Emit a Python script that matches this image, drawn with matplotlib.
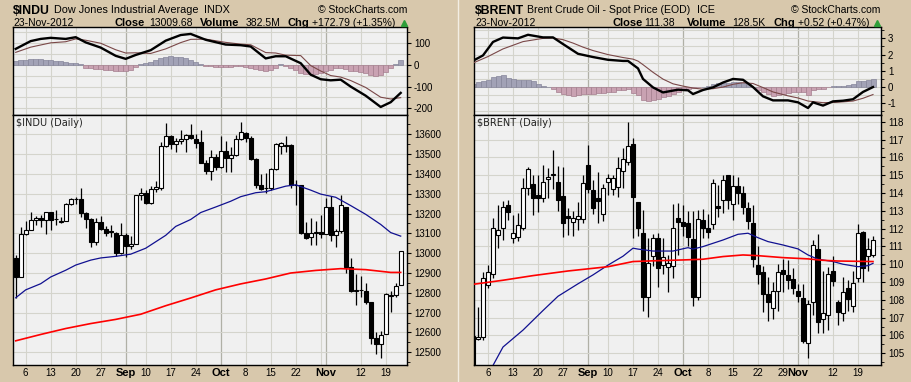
import numpy as np
import pandas as pd
import matplotlib
matplotlib.use("Agg")
import matplotlib.pyplot as plt
from matplotlib.lines import Line2D
from matplotlib.ticker import MultipleLocator, FuncFormatter

plt.rcParams['font.family'] = ['Liberation Sans', 'DejaVu Sans']

W, H = 911, 382
BG = '#d8c8ac'
PANEL = '#f0f0f0'
GRID = '#d4d4cc'
MGRID = '#b0b0a6'

# ---------------- $INDU ----------------
indu_dates = [d.strftime('%m-%d') for d in pd.bdate_range('2012-08-02', '2012-11-23')
              if d.strftime('%m-%d') not in ('09-03', '10-29', '10-30', '11-22')]
indu_open = [12975, 12880, 13097, 13118, 13166, 13175, 13165, 13207, 13170, 13156,
             13164, 13250, 13273, 13271, 13203, 13172, 13056, 13158, 13123, 13110,
             13100, 13002, 13092, 13036, 13045, 13292, 13305, 13254, 13324, 13330,
             13540, 13593, 13552, 13565, 13575, 13597, 13578, 13560, 13457, 13413,
             13485, 13437, 13515, 13479, 13495, 13577, 13606, 13582, 13473, 13344,
             13329, 13329, 13424, 13539, 13542, 13545, 13344, 13344, 13103, 13080,
             13104, 13107, 13099, 13232, 13092, 13113, 13233, 12932, 12811, 12812,
             12810, 12756, 12570, 12543, 12590, 12786, 12788, 12837]
indu_high = [12990, 13134, 13162, 13210, 13190, 13195, 13210, 13210, 13220, 13180,
             13255, 13280, 13285, 13330, 13210, 13175, 13176, 13190, 13135, 13140,
             13105, 13150, 13100, 13085, 13294, 13330, 13320, 13340, 13365, 13560,
             13655, 13595, 13580, 13620, 13600, 13650, 13600, 13620, 13470, 13520,
             13500, 13590, 13567, 13536, 13594, 13663, 13610, 13590, 13480, 13400,
             13403, 13430, 13556, 13560, 13593, 13550, 13368, 13345, 13159, 13175,
             13160, 13192, 13277, 13289, 13120, 13293, 13233, 12977, 12893, 12885,
             12850, 12756, 12604, 12605, 12798, 12810, 12850, 13010]
indu_low = [12776, 12878, 13090, 13115, 13140, 13130, 13095, 13115, 13140, 13150,
            13160, 13245, 13250, 13180, 13125, 13030, 13040, 13115, 13085, 13080,
            12985, 12998, 12982, 13020, 13045, 13270, 13250, 13250, 13310, 13320,
            13535, 13527, 13512, 13550, 13508, 13575, 13530, 13455, 13400, 13369,
            13420, 13430, 13410, 13410, 13490, 13570, 13560, 13470, 13330, 13320,
            13302, 13320, 13420, 13500, 13510, 13330, 13243, 13095, 13070, 13041,
            13040, 13075, 13099, 13060, 13030, 13100, 12900, 12805, 12738, 12780,
            12745, 12540, 12494, 12471, 12590, 12701, 12780, 12837]
indu_close = [12878, 13096, 13117, 13168, 13175, 13165, 13207, 13169, 13172, 13164,
              13250, 13275, 13271, 13203, 13172, 13057, 13158, 13124, 13102, 13107,
              13000, 13090, 13035, 13047, 13292, 13306, 13254, 13323, 13333, 13540,
              13593, 13553, 13565, 13577, 13596, 13579, 13558, 13457, 13413, 13485,
              13437, 13515, 13482, 13494, 13575, 13610, 13583, 13473, 13344, 13326,
              13328, 13424, 13551, 13557, 13548, 13344, 13345, 13103, 13077, 13103,
              13107, 13096, 13232, 13093, 13112, 13245, 12932, 12811, 12815, 12815,
              12756, 12570, 12543, 12588, 12795, 12788, 12836, 13009]
indu_ma50_dates = ['08-02', '08-06', '08-09', '08-13', '08-16', '08-20', '08-23', '08-27',
                   '08-30', '09-05', '09-10', '09-14', '09-18', '09-21', '09-25', '09-28',
                   '10-03', '10-05', '10-10', '10-12', '10-18', '10-22', '10-25', '10-31',
                   '11-05', '11-08', '11-13', '11-16', '11-20', '11-23']
indu_ma50 = [12775, 12815, 12846, 12880, 12914, 12940, 12965, 12976, 12984, 12995, 13025,
             13090, 13135, 13170, 13205, 13233, 13262, 13285, 13305, 13310, 13338, 13345,
             13318, 13298, 13282, 13240, 13196, 13145, 13104, 13086]
indu_ma200_dates = ['08-02', '08-09', '08-16', '08-23', '08-30', '09-07', '09-14', '09-21',
                    '09-28', '10-05', '10-12', '10-19', '10-26', '11-06', '11-13', '11-20', '11-23']
indu_ma200 = [12558, 12590, 12620, 12645, 12666, 12692, 12735, 12774, 12815, 12845, 12870,
              12900, 12913, 12922, 12917, 12903, 12903]
indu_macd_dates = ['08-02', '08-07', '08-09', '08-13', '08-16', '08-20', '08-22', '08-27',
                   '08-30', '09-04', '09-06', '09-11', '09-14', '09-19', '09-21', '09-26',
                   '10-02', '10-05', '10-09', '10-12', '10-16', '10-18', '10-23', '10-25',
                   '10-31', '11-02', '11-06', '11-08', '11-13', '11-16', '11-20', '11-23']
indu_macd = [74, 110, 120, 125, 120, 128, 104, 80, 42, 28, 46, 68, 112, 138, 143, 116,
             94, 91, 85, 30, 40, 40, 8, -45, -66, -71, -68, -100, -142, -194, -172, -129]
indu_signal = [58, 82, 92, 102, 107, 120, 114, 100, 70, 55, 56, 53, 74, 103, 118, 119,
               104, 96, 93, 57, 55, 45, 43, -3, -28, -49, -56, -72, -104, -149, -157, -151]
indu_hist = [17, 22, 25, 28, 28, 28, 25, 22, 20, 16, 13, 10, 8, 2, -12, -15, -18, -20,
             -22, -25, -28, -29, -28, -22, -10, 2, 10, 15, 22, 30, 38, 40, 38, 35, 30,
             25, 15, 5, -3, -6, -8, -8, -10, -10, -6, -5, -8, -12, -20, -25, -27, -22,
             -15, 2, -3, -15, -25, -35, -40, -42, -40, -38, -30, -22, -15, -12, -20,
             -28, -30, -32, -38, -45, -50, -45, -32, -15, 5, 22]
indu_tick_dates = ['08-06', '08-13', '08-20', '08-27', '09-04', '09-10', '09-17', '09-24',
                   '10-01', '10-08', '10-15', '10-22', '11-01', '11-12', '11-19']
indu_tick_labels = ['6', '13', '20', '27', 'Sep', '10', '17', '24', 'Oct', '8', '15', '22',
                    'Nov', '12', '19']
indu_extra_grid = ['10-31']

# ---------------- $BRENT ----------------
brent_dates = [d.strftime('%m-%d') for d in pd.bdate_range('2012-08-01', '2012-11-23')
               if d.strftime('%m-%d') not in ('09-03', '11-22')]
brent_open = [105.97, 105.81, 105.94, 108.84, 109.43, 111.64, 112.02, 113.33, 111.45, 111.55,
              112.02, 114.30, 114.49, 113.89, 113.70, 114.79, 115.00, 114.64, 113.83, 112.71,
              112.35, 112.54, 112.54, 115.57, 114.17, 113.74, 112.80, 114.60, 114.23, 114.35,
              115.23, 115.72, 116.73, 113.48, 111.73, 108.18, 110.48, 111.45, 109.96, 109.86,
              109.92, 112.58, 112.35, 112.30, 111.42, 108.18, 112.48, 112.02, 112.24, 113.29,
              113.61, 115.01, 113.36, 114.41, 113.98, 113.14, 112.30, 109.96, 109.55, 108.31,
              107.56, 108.50, 109.68, 109.40, 109.17, 108.50, 108.13, 105.56, 107.90, 110.86,
              106.93, 107.15, 109.62, 107.86, 107.25, 108.65, 107.68, 109.21, 111.79, 110.48,
              110.52]
brent_high = [106.10, 107.62, 109.58, 109.96, 112.58, 113.33, 113.55, 113.60, 112.76, 112.86,
              114.82, 115.48, 115.00, 115.00, 115.60, 115.38, 116.40, 115.50, 115.48, 113.14,
              113.00, 113.50, 115.00, 116.69, 114.73, 115.16, 114.50, 115.05, 115.00, 116.04,
              116.50, 118.00, 117.07, 113.50, 113.04, 111.49, 111.70, 111.73, 111.50, 110.50,
              113.40, 113.42, 113.30, 113.00, 113.00, 113.04, 113.10, 112.80, 114.80, 114.45,
              115.00, 115.01, 115.00, 114.90, 114.39, 113.50, 113.33, 111.00, 109.90, 109.30,
              109.00, 110.00, 110.30, 110.24, 109.80, 108.90, 108.90, 108.00, 111.36, 111.70,
              109.60, 109.87, 110.45, 108.00, 109.30, 109.10, 109.60, 112.24, 111.86, 111.45,
              111.60]
brent_low = [104.00, 105.75, 105.75, 108.65, 109.20, 110.90, 111.36, 112.50, 111.17, 111.30,
             111.90, 113.90, 112.76, 112.95, 113.50, 113.70, 114.20, 113.00, 111.55, 111.64,
             111.60, 111.90, 112.30, 114.00, 112.80, 112.30, 112.40, 113.90, 113.90, 113.80,
             114.30, 115.60, 111.49, 111.60, 107.38, 107.06, 109.90, 108.74, 109.43, 108.46,
             109.20, 110.50, 111.60, 111.00, 107.68, 108.00, 111.50, 111.50, 112.00, 112.65,
             112.90, 113.10, 112.50, 113.40, 112.80, 112.00, 109.87, 108.90, 107.30, 106.80,
             106.90, 107.40, 108.46, 108.60, 108.30, 107.90, 105.55, 104.72, 107.15, 106.13,
             106.13, 106.30, 108.80, 106.60, 106.80, 107.35, 107.34, 109.00, 109.02, 109.60,
             110.40]
brent_close = [104.20, 105.94, 109.21, 109.58, 112.02, 111.92, 113.23, 112.95, 111.74, 112.20,
               114.30, 115.35, 113.74, 113.70, 114.64, 114.92, 115.05, 113.60, 112.30, 112.60,
               112.58, 112.71, 114.58, 114.23, 113.14, 113.55, 114.26, 114.82, 114.82, 115.38,
               115.91, 116.66, 113.79, 112.05, 108.18, 110.05, 111.45, 109.81, 110.43, 110.05,
               112.02, 112.39, 112.17, 111.55, 108.18, 112.54, 112.02, 111.83, 114.54, 113.18,
               114.73, 113.61, 114.41, 113.98, 113.23, 112.43, 110.30, 109.43, 108.30, 107.86,
               108.50, 109.55, 109.43, 109.12, 108.68, 108.20, 105.66, 107.75, 111.08, 106.78,
               107.25, 109.43, 109.08, 107.30, 108.46, 108.02, 108.93, 111.73, 109.81, 110.86,
               111.38]
brent_ma50_dates = ['08-06', '08-09', '08-15', '08-21', '08-24', '08-30', '09-05', '09-10',
                    '09-13', '09-17', '09-18', '09-21', '09-27', '10-02', '10-03', '10-05',
                    '10-11', '10-16', '10-18', '10-22', '10-24', '10-29', '11-01', '11-05',
                    '11-07', '11-12', '11-14', '11-19', '11-21', '11-23']
brent_ma50 = [103.8, 105.35, 106.3, 107.4, 108.2, 108.9, 109.4, 109.95, 110.45, 110.9,
              110.85, 110.74, 110.74, 110.93, 110.85, 110.99, 111.36, 111.68, 111.74, 111.49,
              111.27, 111.08, 110.86, 110.52, 110.28, 110.15, 110.0, 109.86, 109.92, 110.05]
brent_ma200_dates = ['08-01', '08-09', '08-17', '08-28', '09-10', '09-17', '09-21', '10-01',
                     '10-05', '10-11', '10-17', '10-22', '10-29', '11-05', '11-08', '11-13', '11-23']
brent_ma200 = [108.87, 109.1, 109.36, 109.62, 109.86, 110.15, 110.19, 110.24, 110.28, 110.43,
               110.52, 110.48, 110.37, 110.3, 110.22, 110.18, 110.15]
brent_macd_dates = ['08-01', '08-03', '08-07', '08-09', '08-14', '08-16', '08-21', '08-23',
                    '08-27', '08-30', '09-05', '09-10', '09-13', '09-14', '09-18', '09-19',
                    '09-21', '09-25', '09-28', '10-02', '10-03', '10-05', '10-09', '10-11',
                    '10-15', '10-17', '10-19', '10-23', '10-25', '10-30', '11-01', '11-05',
                    '11-06', '11-08', '11-12', '11-14', '11-16', '11-20', '11-23']
brent_macd = [1.62, 1.95, 2.78, 3.05, 3.0, 3.22, 3.06, 3.06, 2.65, 2.05, 1.85, 1.68, 1.61,
              1.61, 1.15, 0.5, -0.02, -0.33, -0.16, -0.2, -0.43, -0.18, -0.02, 0.28, 0.5,
              0.45, 0.0, -0.57, -0.82, -0.82, -0.94, -1.29, -0.94, -1.14, -0.88, -0.84,
              -0.75, -0.3, 0.0]
brent_signal_dates = ['08-01', '08-06', '08-09', '08-15', '08-21', '08-23', '08-27', '08-29',
                      '08-31', '09-05', '09-10', '09-13', '09-17', '09-18', '09-19', '09-21',
                      '09-25', '09-27', '10-01', '10-03', '10-05', '10-09', '10-11', '10-15',
                      '10-17', '10-19', '10-23', '10-25', '10-30', '11-01', '11-05', '11-08',
                      '11-12', '11-14', '11-16', '11-20', '11-23']
brent_signal = [1.48, 1.88, 2.35, 2.8, 3.0, 3.02, 2.92, 2.71, 2.46, 2.25, 2.0, 1.82, 1.72,
                1.6, 1.38, 0.91, 0.49, 0.2, 0.06, -0.06, -0.13, -0.1, 0.0, 0.17, 0.27, 0.22,
                -0.03, -0.3, -0.54, -0.67, -0.86, -0.96, -0.95, -0.91, -0.86, -0.69, -0.46]
brent_hist = [0.2, 0.3, 0.35, 0.45, 0.6, 0.68, 0.73, 0.58, 0.5, 0.45, 0.45, 0.41, 0.35, 0.2,
              0.08, 0.0, -0.12, -0.3, -0.4, -0.47, -0.53, -0.5, -0.45, -0.41, -0.41, -0.39,
              -0.37, -0.33, -0.28, -0.2, -0.16, -0.12, -0.35, -0.5, -0.78, -0.84, -0.8, -0.72,
              -0.6, -0.55, -0.45, -0.3, -0.2, -0.12, -0.06, -0.02, 0.02, 0.06, 0.2, 0.24, 0.26,
              0.28, 0.33, 0.3, 0.25, 0.2, 0.0, -0.2, -0.28, -0.45, -0.55, -0.5, -0.4, -0.35,
              -0.28, -0.3, -0.33, -0.47, -0.2, -0.12, -0.1, -0.02, 0.06, 0.08, 0.08, 0.1, 0.2,
              0.4, 0.4, 0.45, 0.5]
brent_tick_dates = ['08-06', '08-13', '08-20', '08-27', '09-04', '09-10', '09-17', '09-24',
                    '10-01', '10-08', '10-15', '10-22', '10-29', '11-01', '11-12', '11-19']
brent_tick_labels = ['6', '13', '20', '27', 'Sep', '10', '17', '24', 'Oct', '8', '15', '22',
                     '29', 'Nov', '12', '19']
brent_extra_grid = ['11-05']

MONTHS = ('Sep', 'Oct', 'Nov')

fig = plt.figure(figsize=(W / 100, H / 100), dpi=100)
fig.patch.set_facecolor(BG)


def rect(x0, y0, x1, y1):
    return [x0 / W, 1 - y1 / H, (x1 - x0) / W, (y1 - y0) / H]


def pos(dates, keys):
    m = {d: i for i, d in enumerate(dates)}
    return [m[k] for k in keys]


def style_axis(ax):
    ax.set_facecolor(PANEL)
    for s in ax.spines.values():
        s.set_color('black')
        s.set_linewidth(1.0)
    ax.yaxis.tick_right()
    ax.tick_params(axis='y', which='major', direction='out', length=3, width=0.8,
                   pad=2, labelsize=7, colors='black')
    ax.tick_params(axis='y', which='minor', direction='out', length=2, width=0.6)
    ax.tick_params(axis='x', length=0)
    ax.set_axisbelow(True)
    ax.grid(axis='y', which='major', color=GRID, lw=0.8)


def vgrid(ax, dates, tick_d, tick_l, extra):
    for d, lab in zip(tick_d, tick_l):
        ax.axvline(pos(dates, [d])[0], color=MGRID if lab in MONTHS else GRID,
                   lw=0.9 if lab in MONTHS else 0.8, zorder=0.5)
    for d in extra:
        ax.axvline(pos(dates, [d])[0], color=GRID, lw=0.8, zorder=0.5)


def draw(x0, x1, dates, o, h, l, c, ma50_d, ma50, ma200_d, ma200, macd_d, macd, sig_d, sig,
         hist, tick_d, tick_l, extra, xlim, ylim_p, ylim_m, pmaj, pmin, mmaj, mmin,
         pfmt, mfmt, label):
    ax_m = fig.add_axes(rect(x0, 27, x1, 115))
    ax_p = fig.add_axes(rect(x0, 115, x1, 365))
    for ax in (ax_m, ax_p):
        style_axis(ax)
        vgrid(ax, dates, tick_d, tick_l, extra)
        ax.set_xlim(*xlim)

    # MACD panel
    x = np.arange(len(hist))
    hv = np.asarray(hist)
    posm = hv >= 0
    ax_m.bar(x[posm], hv[posm], width=1.0, color='#a2a2b6', edgecolor='#85859a', lw=0.5, zorder=2)
    ax_m.bar(x[~posm], hv[~posm], width=1.0, color='#c9a2b2', edgecolor='#a47e8e', lw=0.5, zorder=2)
    ax_m.plot(pos(dates, sig_d), sig, color='#7a4848', lw=0.8, zorder=3)
    ax_m.plot(pos(dates, macd_d), macd, color='black', lw=1.7, zorder=4)
    ax_m.set_ylim(*ylim_m)
    ax_m.yaxis.set_major_locator(MultipleLocator(mmaj))
    ax_m.yaxis.set_minor_locator(MultipleLocator(mmin))
    ax_m.yaxis.set_major_formatter(FuncFormatter(mfmt))
    ax_m.grid(axis='y', which='minor', color=GRID, lw=0.8)
    ax_m.set_xticks([])

    # Price panel
    xs = np.arange(len(o))
    o, h, l, c = map(np.asarray, (o, h, l, c))
    ax_p.vlines(xs, l, h, color='black', lw=0.9, zorder=3)
    up = c >= o
    ax_p.bar(xs[up], (c - o)[up], bottom=o[up], width=0.8, color='white',
             edgecolor='black', lw=0.8, zorder=4)
    ax_p.bar(xs[~up], (o - c)[~up], bottom=c[~up], width=0.8, color='black',
             edgecolor='black', lw=0.8, zorder=4)
    ax_p.plot(pos(dates, ma50_d), ma50, color='#101090', lw=0.9, zorder=5)
    ax_p.plot(pos(dates, ma200_d), ma200, color='#ff0000', lw=1.2, zorder=5)
    ax_p.set_ylim(*ylim_p)
    ax_p.yaxis.set_major_locator(MultipleLocator(pmaj))
    ax_p.yaxis.set_minor_locator(MultipleLocator(pmin))
    ax_p.yaxis.set_major_formatter(FuncFormatter(pfmt))
    ax_p.set_xticks(pos(dates, tick_d))
    ax_p.set_xticklabels(tick_l)
    for t in ax_p.get_xticklabels():
        if t.get_text() in MONTHS:
            t.set_fontweight('bold')
            t.set_fontsize(8)
        else:
            t.set_fontsize(7)
    ax_p.tick_params(axis='x', pad=2.5)
    ax_p.text(3.0 / (x1 - x0), 0.969, label, transform=ax_p.transAxes, fontsize=7,
              family=['DejaVu Sans'], va='center', ha='left', color='#222222', zorder=6)
    return ax_m, ax_p


draw(13, 407, indu_dates, indu_open, indu_high, indu_low, indu_close,
     indu_ma50_dates, indu_ma50, indu_ma200_dates, indu_ma200,
     indu_macd_dates, indu_macd, indu_macd_dates, indu_signal, indu_hist,
     indu_tick_dates, indu_tick_labels, indu_extra_grid,
     (-0.54, 78.26), (12436, 13697), (-231, 175), 100, 50, 100, 50,
     lambda v, p: f'{v:.0f}', lambda v, p: f'{v:.0f}', '$INDU (Daily)')

draw(474, 881, brent_dates, brent_open, brent_high, brent_low, brent_close,
     brent_ma50_dates, brent_ma50, brent_ma200_dates, brent_ma200,
     brent_macd_dates, brent_macd, brent_signal_dates, brent_signal, brent_hist,
     brent_tick_dates, brent_tick_labels, brent_extra_grid,
     (0.2, 81.6), (104.34, 118.38), (-1.72, 3.70), 1, 0.5, 1, 0.5,
     lambda v, p: f'{v:.0f}', lambda v, p: f'{v:.0f}', '$BRENT (Daily)')


def ftext(x, y, s, **kw):
    fig.text(x / W, 1 - y / H, s, va='baseline', **kw)


# header INDU
ftext(13, 13.5, '$INDU', fontsize=8.8, fontweight='bold')
ftext(54, 13, 'Dow Jones Industrial Average', fontsize=7.8)
ftext(204.3, 13, 'INDX', fontsize=7.8)
ftext(407, 13, '\u00a9 StockCharts.com', fontsize=7.5, ha='right')
ftext(13, 26, '23-Nov-2012', fontsize=7.5)
ftext(114.3, 26.3, 'Close', fontsize=8, fontweight='bold')
ftext(149, 26.3, '13009.68', fontsize=7.5)
ftext(200, 26.3, 'Volume', fontsize=8, fontweight='bold')
ftext(246, 26.3, '382.5M', fontsize=7.5)
ftext(287.7, 26.3, 'Chg', fontsize=8, fontweight='bold')
ftext(312, 26.3, '+172.79 (+1.35%)', fontsize=7.5)
fig.add_artist(Line2D([403.5 / W], [1 - 23 / H], marker='^', color='#2e9e3a',
                      markersize=4.5, transform=fig.transFigure))

# header BRENT
ftext(475, 13.5, '$BRENT', fontsize=8.8, fontweight='bold')
ftext(527.3, 13, 'Brent Crude Oil - Spot Price (EOD)', fontsize=7.6)
ftext(697, 13, 'ICE', fontsize=7.8)
ftext(880, 13, '\u00a9 StockCharts.com', fontsize=7.5, ha='right')
ftext(475, 26, '23-Nov-2012', fontsize=7.5)
ftext(612.7, 26.3, 'Close', fontsize=8, fontweight='bold')
ftext(644.3, 26.3, '111.38', fontsize=7.5)
ftext(687.3, 26.3, 'Volume', fontsize=8, fontweight='bold')
ftext(732.3, 26.3, '128.5K', fontsize=7.5)
ftext(773.3, 26.3, 'Chg', fontsize=8, fontweight='bold')
ftext(797.7, 26.3, '+0.52 (+0.47%)', fontsize=7.5)
fig.add_artist(Line2D([876.5 / W], [1 - 23 / H], marker='^', color='#2e9e3a',
                      markersize=4.5, transform=fig.transFigure))

# separator between the two charts
fig.add_artist(Line2D([457.5 / W, 457.5 / W], [0, 1], color='#f3eee4', lw=1.0,
                      transform=fig.transFigure))

fig.savefig('out.png', dpi=100, facecolor=BG)
